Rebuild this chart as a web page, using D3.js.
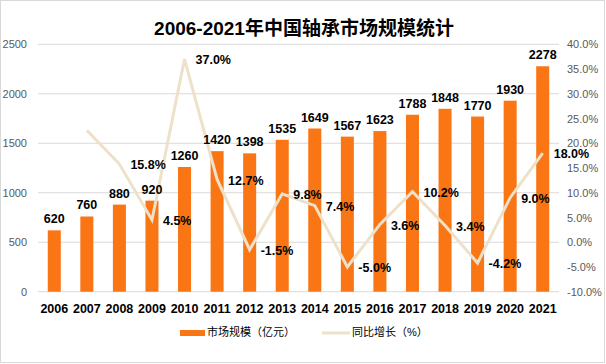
<!DOCTYPE html>
<html><head><meta charset="utf-8">
<script src="https://cdn.jsdelivr.net/npm/d3@7/dist/d3.min.js"></script>
<style>body{margin:0;background:#fff}svg{display:block}</style>
</head><body><svg id="c" width="606" height="364"></svg>
<script>
const years = ["2006","2007","2008","2009","2010","2011","2012","2013","2014","2015","2016","2017","2018","2019","2020","2021"];
const marketSize = [620,760,880,920,1260,1420,1398,1535,1649,1567,1623,1788,1848,1770,1930,2278];
const growth = [null,22.6,15.8,4.5,37.0,12.7,-1.5,9.8,7.4,-5.0,3.6,10.2,3.4,-4.2,9.0,18.0];
const growthUnlabeled = ["2007"];
const leftTicks = [0,500,1000,1500,2000,2500];
const rightTicks = [-10,-5,0,5,10,15,20,25,30,35,40];
const title = "2006-2021年中国轴承市场规模统计";
const legendBar = "市场规模（亿元）";
const legendLine = "同比增长（%）";

const svg = d3.select("#c");
const W = 606, H = 364;
const ff = "'Liberation Sans','Noto Sans CJK SC',sans-serif";
const barColor = "#FA7514", lineColor = "#EDE1CA";

svg.append("rect").attr("x",0.5).attr("y",0.5).attr("width",W-2).attr("height",H-2)
  .attr("fill","#fff").attr("stroke","#D9D9D9");

const x = d3.scaleBand().domain(years).range([38,559]).paddingInner(0.6).paddingOuter(0.3);
const yL = d3.scaleLinear().domain([0,2500]).range([291.7,44.3]);
const yR = d3.scaleLinear().domain([-10,40]).range([291.7,44.3]);

// gridlines
svg.append("g").selectAll("line").data(leftTicks).join("line")
  .attr("x1",38).attr("x2",559).attr("y1",d=>yL(d)).attr("y2",d=>yL(d))
  .attr("stroke","#D9D9D9").attr("stroke-width",1);

// left axis
const gL = svg.append("g").attr("transform","translate(27,0)")
  .call(d3.axisLeft(yL).tickValues(leftTicks).tickSize(0).tickPadding(0).tickFormat(d3.format("d")));
gL.select(".domain").remove();
gL.selectAll("text").attr("font-family",ff).attr("font-size",11).attr("fill","#595959");

// right axis
const gR = svg.append("g").attr("transform","translate(567,0)")
  .call(d3.axisRight(yR).tickValues(rightTicks).tickSize(0).tickPadding(0).tickFormat(d=>d.toFixed(1)+"%"));
gR.select(".domain").remove();
gR.selectAll("text").attr("font-family",ff).attr("font-size",11).attr("fill","#595959");

// x axis
const gX = svg.append("g").attr("transform","translate(0,304)")
  .call(d3.axisBottom(x).tickSize(0).tickPadding(0));
gX.select(".domain").remove();
gX.selectAll("text").attr("font-family",ff).attr("font-size",12.5).attr("font-weight","bold").attr("fill","#000");

// bars
svg.append("g").selectAll("rect").data(years).join("rect")
  .attr("x",d=>x(d)).attr("width",x.bandwidth())
  .attr("y",(d,i)=>yL(marketSize[i])).attr("height",(d,i)=>yL(0)-yL(marketSize[i]))
  .attr("fill",barColor);

// line
const pts = years.map((d,i)=>({year:d,v:growth[i]})).filter(p=>p.v!==null);
const cx = d=>x(d)+x.bandwidth()/2;
svg.append("path").datum(pts)
  .attr("d",d3.line().x(p=>cx(p.year)).y(p=>yR(p.v)))
  .attr("fill","none").attr("stroke",lineColor).attr("stroke-width",3).attr("stroke-linejoin","miter");

// bar labels
svg.append("g").selectAll("text").data(years).join("text")
  .attr("x",d=>x(d)+x.bandwidth()/2).attr("y",(d,i)=>yL(marketSize[i])-7)
  .attr("text-anchor","middle").attr("font-family",ff).attr("font-size",12.5)
  .attr("font-weight","bold").attr("fill","#000").text((d,i)=>marketSize[i]);

// line labels
svg.append("g").selectAll("text").data(pts.filter(p=>!growthUnlabeled.includes(p.year))).join("text")
  .attr("x",p=>cx(p.year)+11).attr("y",p=>yR(p.v)+2)
  .attr("dominant-baseline","middle").attr("font-family",ff).attr("font-size",12.5)
  .attr("font-weight","bold").attr("fill","#000").text(p=>p.v.toFixed(1)+"%");

// title
svg.append("text").attr("x",304).attr("y",35).attr("text-anchor","middle")
  .attr("font-family",ff).attr("font-size",19).attr("font-weight","bold").attr("fill","#000").text(title);

// legend
const lg = svg.append("g");
lg.append("rect").attr("x",180).attr("y",330).attr("width",25).attr("height",6).attr("fill",barColor);
lg.append("text").attr("x",207).attr("y",333).attr("dominant-baseline","middle")
  .attr("font-family",ff).attr("font-size",11).attr("fill","#000").text(legendBar);
lg.append("line").attr("x1",322).attr("x2",350).attr("y1",333).attr("y2",333)
  .attr("stroke",lineColor).attr("stroke-width",3);
lg.append("text").attr("x",352).attr("y",333).attr("dominant-baseline","middle")
  .attr("font-family",ff).attr("font-size",11).attr("fill","#000").text(legendLine);
</script></body></html>
